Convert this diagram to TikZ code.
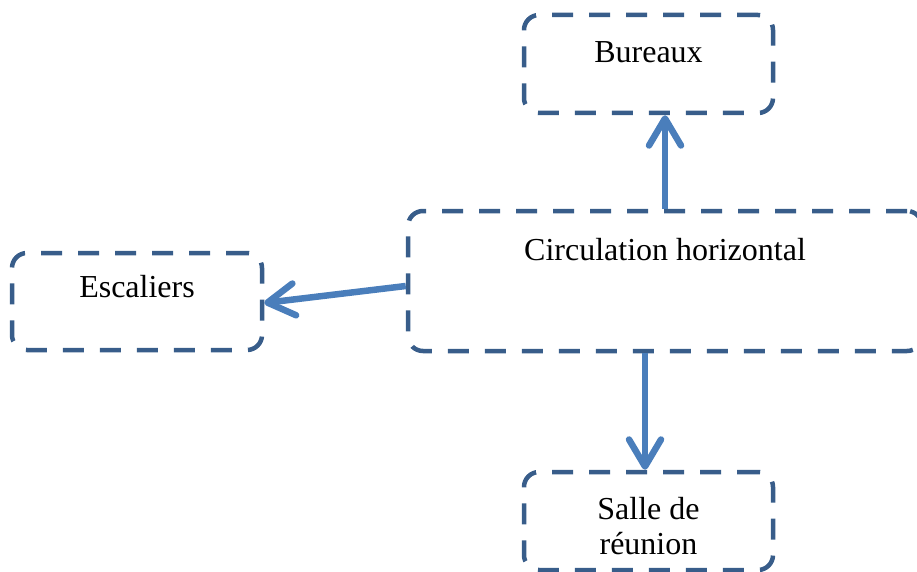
\documentclass[tikz,border=0pt]{standalone}
\usepackage{fontspec}
\setmainfont{Liberation Serif}
\usetikzlibrary{arrows.meta}
\definecolor{boxline}{HTML}{385D8A}
\definecolor{flow}{HTML}{4A7EBB}
\begin{document}
\begin{tikzpicture}[x=1pt,y=-1pt,
  zone/.style={draw=boxline,line width=4.5pt,dash pattern=on 21pt off 16pt,
    rounded corners=15pt,inner sep=0pt},
  caption/.style={font=\fontsize{32}{35}\selectfont,align=center,inner sep=0pt},
  flowarrow/.style={draw=flow,line width=6.5pt,
    -{Straight Barb[length=27pt,width=32pt,line cap=round,line join=round]}}]
  \useasboundingbox (0,0) rectangle (917,572);
  \clip (0,0) rectangle (917,572);

  % boxes
  \node[zone,minimum width=514pt,minimum height=140pt] (central) at (665,281) {};
  \node[zone,minimum width=249pt,minimum height=98pt] (bureaux) at (648.5,64) {};
  \node[zone,minimum width=250pt,minimum height=97pt] (escaliers) at (137,301.5) {};
  \node[zone,minimum width=249pt,minimum height=98pt] (salle) at (648.5,521) {};

  % labels
  \node[caption] (tcentral) at (665,250) {Circulation horizontal};
  \node[caption] (tbureaux) at (648.5,52) {Bureaux};
  \node[caption] (tescaliers) at (137,287) {Escaliers};
  \node[caption] (tsalle) at (648.5,526) {Salle de\\réunion};

  % connections
  \draw[flowarrow] (central.north) -- (central.north |- bureaux.south);
  \draw[flowarrow] ([xshift=-3.5pt]central.south -| salle.north) -- ([xshift=-3.5pt]salle.north);
  \draw[flowarrow] ([yshift=-5pt]central.west) -- ([yshift=-1.5pt]escaliers.east);
\end{tikzpicture}
\end{document}
